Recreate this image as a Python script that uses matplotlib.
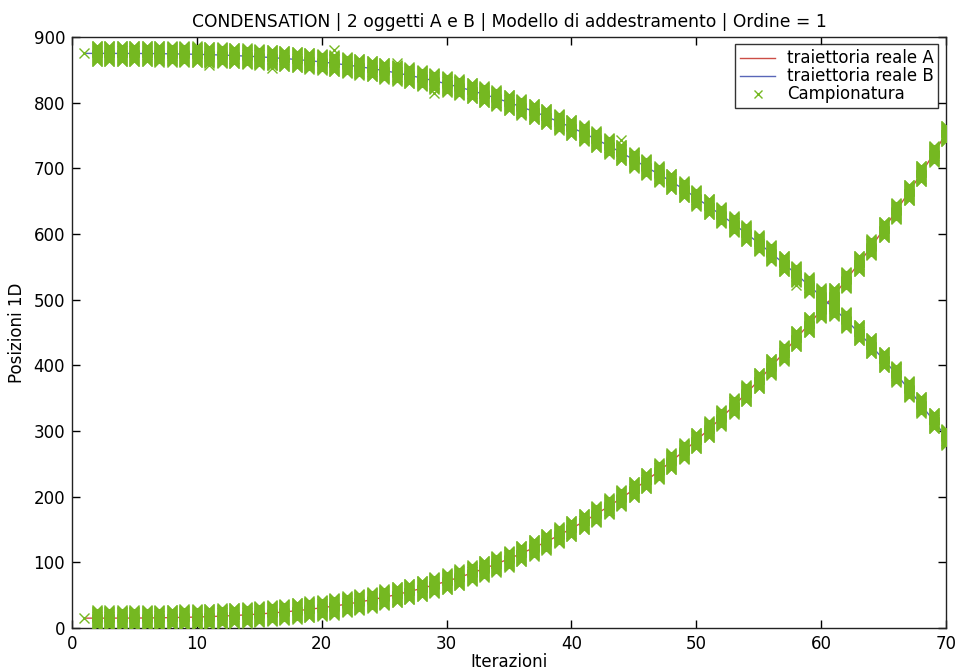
import matplotlib
matplotlib.use("Agg")
import matplotlib.pyplot as plt
import numpy as np

plt.rcParams['font.family'] = ['DejaVu Sans']

iterations = list(range(1, 71))

traj_A = [15.0, 15.0, 15.0, 15.1, 15.1, 15.3, 15.5, 15.8, 16.2, 16.7,
          17.3, 18.1, 19.0, 20.1, 21.3, 22.8, 24.4, 26.3, 28.4, 30.8,
          33.4, 36.3, 39.5, 43.0, 46.8, 50.9, 55.4, 60.3, 65.5, 71.1,
          77.1, 83.5, 90.4, 97.7, 105.4, 113.6, 122.3, 131.5, 141.2, 151.4,
          162.2, 173.5, 185.4, 197.9, 210.9, 224.6, 238.9, 253.8, 269.4, 285.6,
          302.5, 320.1, 338.4, 357.4, 377.0, 398.0, 419.0, 441.0, 462.0, 484.0,
          506.0, 530.0, 555.0, 580.0, 607.0, 635.0, 663.0, 692.0, 722.0, 753.0]

traj_B = [875.0, 875.0, 875.0, 874.9, 874.9, 874.8, 874.6, 874.3, 874.0, 873.6,
          873.1, 872.5, 871.7, 870.8, 869.8, 868.6, 867.2, 865.7, 863.9, 862.0,
          859.8, 857.4, 854.8, 851.9, 848.7, 845.3, 841.6, 837.6, 833.3, 828.7,
          823.7, 818.4, 812.7, 806.7, 800.3, 793.5, 786.4, 778.8, 770.7, 762.3,
          753.4, 744.1, 734.2, 724.0, 713.0, 702.0, 691.0, 680.0, 668.0, 655.0,
          642.0, 629.0, 615.0, 601.0, 586.0, 571.0, 555.0, 539.0, 522.0, 505.0,
          487.0, 469.0, 450.0, 430.0, 409.0, 387.0, 364.0, 340.0, 316.0, 291.0]

# spread of the particle samples around each true position (from iteration 2 on)
sample_offsets = [-12, -11, -10, -9, -8, -7, -6, -5, -4, -3, -2, -1, 0,
                  1, 2, 3, 4, 5, 6, 7, 8, 9, 10, 11, 12]

# a few stray samples visible outside the dense columns
stray_x = [26, 29, 44, 11, 16, 21, 21, 58, 62, 63, 66]
stray_y = [860, 814, 743, 857, 852, 880, 20, 522, 479, 459, 396]

title = "CONDENSATION | 2 oggetti A e B | Modello di addestramento | Ordine = 1"
xlabel = "Iterazioni"
ylabel = "Posizioni 1D"
legend_labels = ["traiettoria reale A", "traiettoria reale B", "Campionatura"]
xticks = [0, 10, 20, 30, 40, 50, 60, 70]
yticks = [0, 100, 200, 300, 400, 500, 600, 700, 800, 900]

green = (0.46, 0.72, 0.13)
red = (0.80, 0.30, 0.28)
blue = (0.35, 0.40, 0.72)

fig = plt.figure(figsize=(9.57, 6.71), dpi=100)
ax = fig.add_axes([0.0752, 0.0641, 0.9133, 0.8808])

lA, = ax.plot(iterations, traj_A, color=red, lw=1.0, zorder=2)
lB, = ax.plot(iterations, traj_B, color=blue, lw=1.0, zorder=2)

sx, sy = [], []
for it, a, b in zip(iterations, traj_A, traj_B):
    if it == 1:
        sx += [it, it]
        sy += [a, b]
        continue
    for o in sample_offsets:
        sx += [it, it]
        sy += [a + o, b + o]
sx += stray_x
sy += stray_y
sc, = ax.plot(sx, sy, linestyle='none', marker='x', color=green,
              markersize=7, markeredgewidth=1.0, zorder=3)

ax.set_xlim(0, 70)
ax.set_ylim(0, 900)
ax.set_xticks(xticks)
ax.set_yticks(yticks)
ax.tick_params(direction='in', length=6, width=1, top=True, right=True,
               labelsize=12, colors='black', pad=5)
for s in ax.spines.values():
    s.set_linewidth(1.0)
    s.set_color('#222222')

ax.set_title(title, fontsize=12.3, pad=7)
ax.set_xlabel(xlabel, fontsize=12, labelpad=0)
ax.set_ylabel(ylabel, fontsize=12, labelpad=5)

leg = ax.legend([lA, lB, sc], legend_labels, loc='upper right',
                fontsize=12, frameon=True, fancybox=False,
                borderpad=0.3, labelspacing=0.0, handlelength=2.1,
                handletextpad=0.7, borderaxespad=0.45)
leg.get_frame().set_edgecolor('black')
leg.get_frame().set_linewidth(1.0)
leg.legend_handles[2].set_markersize(6)

fig.savefig("out.png", dpi=100)
